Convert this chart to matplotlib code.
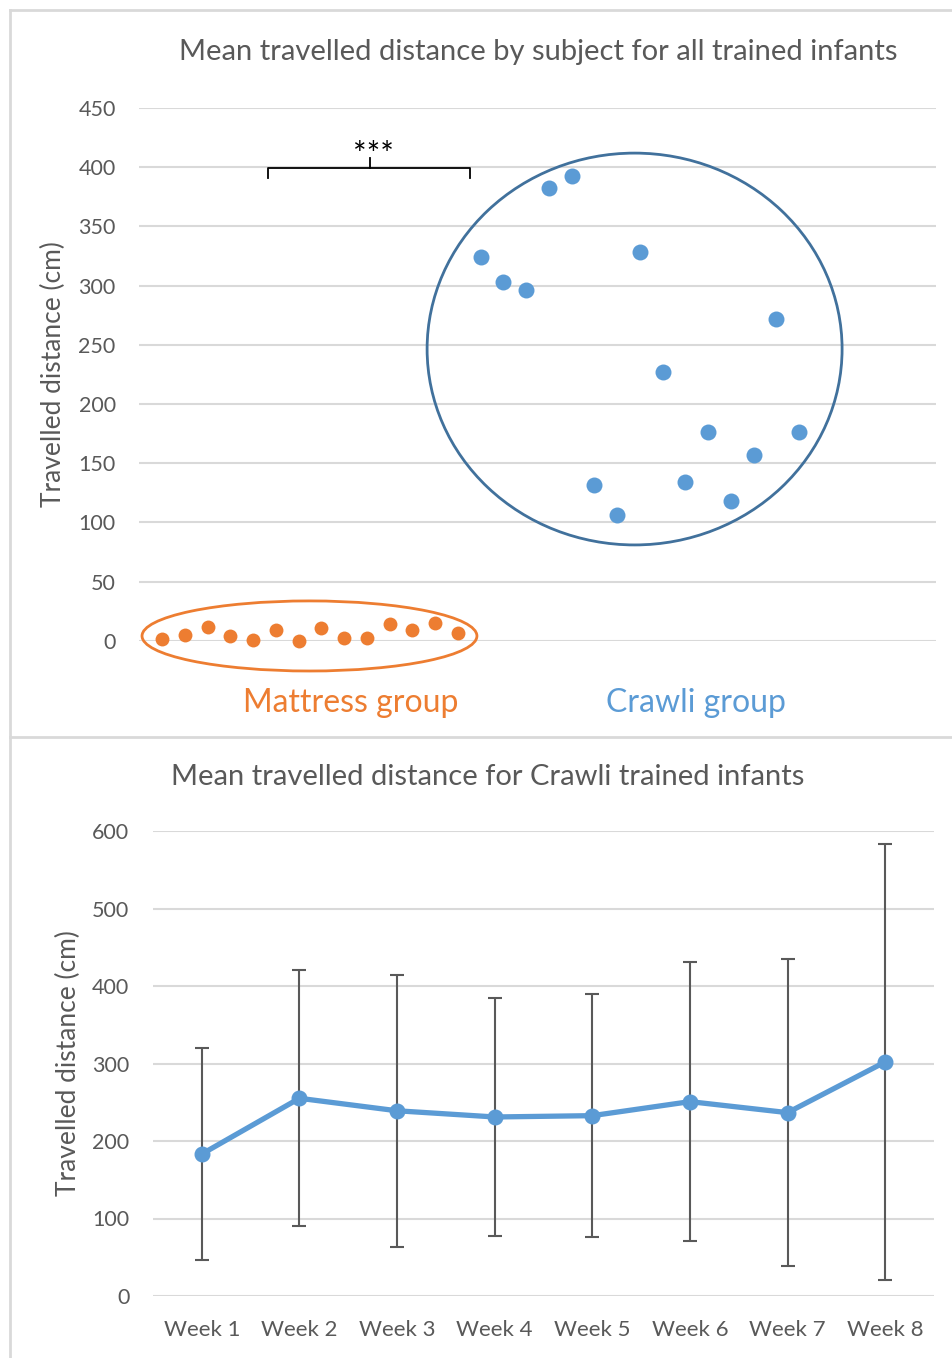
import numpy as np
import matplotlib.pyplot as plt
from matplotlib.patches import Ellipse
from matplotlib.lines import Line2D

plt.rcParams['font.family'] = ['Lato', 'DejaVu Sans']

W, H = 953, 1358
GRAY = '#595959'
GRID = '#D9D9D9'
ORANGE = '#ED7D31'
BLUE = '#5B9BD5'
DARKBLUE = '#41719C'

# --- top chart: mean distance per subject ---
mattress_subj = np.arange(1, 15)
mattress_dist = [1.2, 4.8, 11.9, 4.2, 0.6, 9.0, 0.0, 10.7, 2.3, 2.5, 13.9, 9.0, 15.1, 6.8]
crawli_subj = np.arange(15, 30)
crawli_dist = [323.8, 303.2, 296.5, 382.3, 392.5, 131.3, 106.4, 328.3, 226.9,
               133.8, 176.3, 118.2, 156.6, 272.0, 176.3]
top_yticks = np.arange(0, 451, 50)

# --- bottom chart: weekly mean with SD ---
weeks = ['Week 1', 'Week 2', 'Week 3', 'Week 4', 'Week 5', 'Week 6', 'Week 7', 'Week 8']
week_mean = [183.2, 255.1, 239.0, 231.0, 232.7, 250.8, 236.6, 302.0]
week_sd = [137.0, 165.2, 175.3, 154.0, 157.0, 180.3, 197.9, 281.0]
bot_yticks = np.arange(0, 601, 100)


def fx(px):
    return px / W


def fy(py):
    return 1 - py / H


fig = plt.figure(figsize=(W / 100, H / 100), dpi=100)

# panel frames
for seg in [((10, 10), (10, H)), ((10, W), (10, 10)), ((10, W), (737, 737))]:
    fig.add_artist(Line2D([fx(seg[0][0]), fx(seg[0][1])], [fy(seg[1][0]), fy(seg[1][1])],
                          color=GRID, lw=2, transform=fig.transFigure))

# ---------- top ----------
ax1 = fig.add_axes([fx(139.3), fy(640.7), fx(935.6 - 139.3), (640.7 - 108) / H])
ax1.set_xlim(0, 35)
ax1.set_ylim(0, 450)
ax1.set_yticks(top_yticks)
ax1.set_xticks([])
ax1.grid(axis='y', color=GRID, lw=1.5)
ax1.set_axisbelow(True)
for s in ax1.spines.values():
    s.set_visible(False)
ax1.tick_params(axis='y', length=0, labelsize=15.5, labelcolor=GRAY, pad=17)

ax1.scatter(mattress_subj, mattress_dist, s=10 ** 2, color=ORANGE, zorder=3, clip_on=False, lw=0)
ax1.scatter(crawli_subj, crawli_dist, s=11.5 ** 2, color=BLUE, zorder=3, clip_on=False, lw=0)

ax1.add_patch(Ellipse((7.48, 4.0), 2 * 7.36, 2 * 29.6, fill=False, ec=ORANGE, lw=2, clip_on=False))
ax1.add_patch(Ellipse((21.77, 246.4), 2 * 9.12, 2 * 165.5, fill=False, ec=DARKBLUE, lw=2, clip_on=False))

# significance bracket
ax1.plot([5.66, 5.66, 14.54, 14.54], [390.8, 399.2, 399.2, 390.8], color='black', lw=1.3, zorder=4)
ax1.plot([10.14, 10.14], [399.2, 408], color='black', lw=1.3, zorder=4)
ax1.text(10.3, 401.5, '***', ha='center', va='baseline', fontsize=23, color='black')

ax1.set_ylabel('Travelled distance (cm)', fontsize=19, color=GRAY)
ax1.yaxis.set_label_coords((66 - 139.3) / 796.3, 0.5)

fig.text(fx(538), fy(52), 'Mean travelled distance by subject for all trained infants',
         ha='center', va='center', fontsize=21, color=GRAY)
fig.text(fx(351), fy(703), 'Mattress group', ha='center', va='center', fontsize=23, color=ORANGE)
fig.text(fx(696), fy(703), 'Crawli group', ha='center', va='center', fontsize=23, color=BLUE)

# ---------- bottom ----------
ax2 = fig.add_axes([fx(153), fy(1296), fx(934 - 153), (1296 - 831) / H])
x = np.arange(len(weeks))
ax2.errorbar(x, week_mean, yerr=week_sd, fmt='none', ecolor=GRAY, elinewidth=1.5,
             capsize=4.7, capthick=1.5, zorder=2)
ax2.plot(x, week_mean, color=BLUE, lw=3.8, marker='o', ms=10.5, zorder=3)
ax2.set_xlim(-0.5, 7.5)
ax2.set_ylim(0, 600)
ax2.set_yticks(bot_yticks)
ax2.set_xticks(x)
ax2.set_xticklabels(weeks)
ax2.grid(axis='y', color=GRID, lw=1.5)
ax2.set_axisbelow(True)
for s in ax2.spines.values():
    s.set_visible(False)
ax2.tick_params(axis='y', length=0, labelsize=15.5, labelcolor=GRAY, pad=17)
ax2.tick_params(axis='x', length=0, labelsize=16, labelcolor=GRAY, pad=17)
ax2.set_ylabel('Travelled distance (cm)', fontsize=19, color=GRAY)
ax2.yaxis.set_label_coords((81 - 153) / 781, 0.5)

fig.text(fx(488), fy(777), 'Mean travelled distance for Crawli trained infants',
         ha='center', va='center', fontsize=21, color=GRAY)

fig.savefig('out.png', dpi=100, facecolor='white')
